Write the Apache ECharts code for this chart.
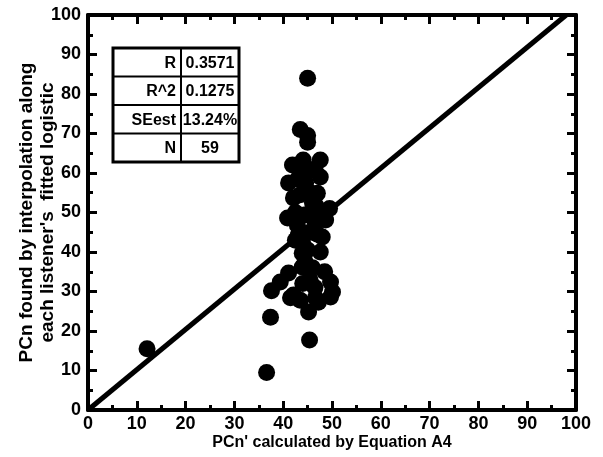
<!DOCTYPE html>
<html>
<head>
<meta charset="utf-8">
<script src="https://cdn.jsdelivr.net/npm/echarts@6/dist/echarts.min.js"></script>
<style>
  html, body { margin: 0; padding: 0; background: #fff; }
  #chart { width: 603px; height: 457px; }
</style>
</head>
<body>
<div id="chart"></div>
<script>
// x = PCn' calculated, y = PCn found by interpolation
const xValues = [12.1, 36.6, 37.4, 45.4, 37.6, 45.0, 43.5, 45.0, 44.1, 47.6,
    41.9, 44.6, 47.6, 41.1, 44.6, 42.1, 47.0, 46.6, 40.9, 44.6,
    48.7, 42.9, 46.6, 43.1, 48.0, 47.6, 43.9, 43.9, 41.1, 39.4,
    49.7, 50.1, 42.1, 46.6, 41.5, 43.5, 45.2, 47.2, 49.7, 45.0,
    49.5, 45.5, 44.0, 46.0, 45.5, 47.0, 42.5, 44.0, 46.5, 43.0,
    45.5, 48.5, 44.5, 46.0, 45.0, 43.5, 46.5, 42.5, 47.5];
const yValues = [15.5, 9.5, 23.5, 17.7, 30.2, 84.0, 71.0, 69.5, 63.3, 63.3,
    62.0, 60.0, 59.0, 57.5, 57.5, 53.7, 54.9, 51.9, 48.6, 49.4,
    48.1, 46.8, 47.3, 44.3, 43.8, 40.0, 39.7, 36.2, 34.7, 32.4,
    32.4, 29.9, 29.1, 28.4, 28.4, 27.8, 24.8, 27.3, 28.6, 67.8,
    51.0, 55.0, 42.0, 36.0, 33.0, 44.5, 50.0, 32.0, 61.0, 58.5,
    45.0, 35.0, 37.5, 52.5, 40.5, 54.5, 31.0, 43.0, 50.0];
const refLine = [[0, 0], [98, 100]];
const statNames = ['R', 'R^2', 'SEest', 'N'];
const statValues = ['0.3571', '0.1275', '13.24%', '59'];

const points = xValues.map((x, i) => [x, yValues[i]]);

const chartDom = document.getElementById('chart');
const myChart = echarts.init(chartDom, null, { renderer: 'canvas' });

const font = 'Liberation Sans, Arial, sans-serif';
const axisBase = {
    type: 'value',
    min: 0,
    max: 100,
    interval: 10,
    axisLine: { show: true, onZero: false, lineStyle: { color: '#000', width: 4 } },
    axisTick: { show: true, inside: true, length: 9, lineStyle: { color: '#000', width: 3 } },
    minorTick: { show: true, splitNumber: 2, length: 5, lineStyle: { color: '#000', width: 3 } },
    splitLine: { show: false },
    axisLabel: { color: '#000', fontSize: 18, fontWeight: 'bold', fontFamily: font }
};

// stats table
const tblX = 113, tblY = 48, rowH = 28.5, col1 = 68, col2 = 58;
const tableEls = [];
tableEls.push({
    type: 'rect',
    shape: { x: tblX, y: tblY, width: col1 + col2, height: rowH * 4 },
    style: { fill: '#fff', stroke: '#000', lineWidth: 3 }
});
tableEls.push({
    type: 'line',
    shape: { x1: tblX + col1, y1: tblY, x2: tblX + col1, y2: tblY + rowH * 4 },
    style: { stroke: '#000', lineWidth: 2 }
});
statNames.forEach((name, i) => {
    if (i > 0) {
        tableEls.push({
            type: 'line',
            shape: { x1: tblX, y1: tblY + rowH * i, x2: tblX + col1 + col2, y2: tblY + rowH * i },
            style: { stroke: '#000', lineWidth: 2 }
        });
    }
    tableEls.push({
        type: 'text',
        x: tblX + col1 - 5, y: tblY + rowH * i + rowH / 2 + 1,
        style: { text: name, fill: '#000', font: 'bold 16px ' + font, align: 'right', verticalAlign: 'middle' }
    });
    tableEls.push({
        type: 'text',
        x: tblX + col1 + col2 / 2, y: tblY + rowH * i + rowH / 2 + 1,
        style: { text: statValues[i], fill: '#000', font: 'bold 16px ' + font, align: 'center', verticalAlign: 'middle' }
    });
});

const option = {
    animation: false,
    backgroundColor: '#fff',
    grid: { left: 88, right: 27, top: 15, bottom: 47, containLabel: false, outerBoundsMode: 'none' },
    xAxis: [
        Object.assign({}, axisBase, {
            position: 'bottom',
            name: "PCn' calculated by Equation A4",
            nameLocation: 'middle',
            nameGap: 25,
            nameMoveOverlap: false,
            nameTextStyle: { color: '#000', fontSize: 16, fontWeight: 'bold', fontFamily: font },
            axisLabel: Object.assign({}, axisBase.axisLabel, { margin: 5 })
        }),
        Object.assign({}, axisBase, { position: 'top', axisLabel: { show: false } })
    ],
    yAxis: [
        Object.assign({}, axisBase, {
            position: 'left',
            name: "PCn found by interpolation along\neach listener's  fitted logistic",
            nameLocation: 'middle',
            nameGap: 30,
            nameMoveOverlap: false,
            nameTextStyle: { color: '#000', fontSize: 19, fontWeight: 'bold', fontFamily: font, lineHeight: 21 },
            axisLabel: Object.assign({}, axisBase.axisLabel, { margin: 7 })
        }),
        Object.assign({}, axisBase, { position: 'right', axisLabel: { show: false } })
    ],
    series: [
        {
            type: 'scatter',
            data: points,
            symbol: 'circle',
            symbolSize: 17,
            itemStyle: { color: '#000', opacity: 1 },
            z: 2
        },
        {
            type: 'line',
            data: refLine,
            symbol: 'none',
            lineStyle: { color: '#000', width: 5 },
            z: 3
        }
    ],
    graphic: tableEls
};

myChart.setOption(option);
</script>
</body>
</html>
